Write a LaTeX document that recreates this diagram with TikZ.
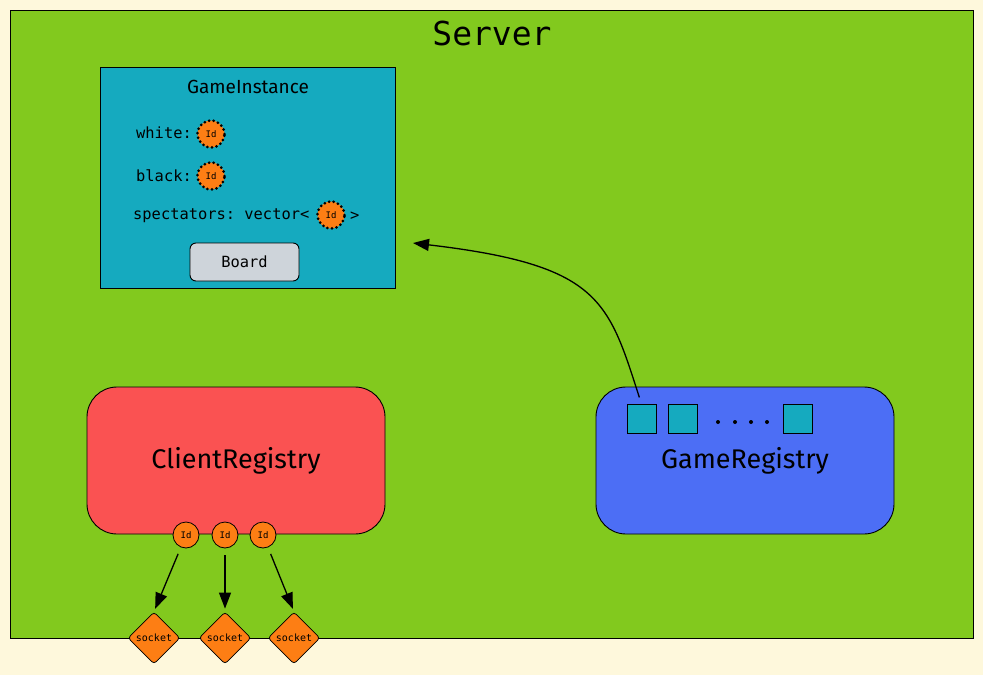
\documentclass[tikz,border=0pt]{standalone}
\usepackage{fontspec}
\setmainfont{Fira Sans}
\setmonofont{DejaVu Sans Mono}
\usetikzlibrary{arrows.meta,shapes.geometric}
\definecolor{bgcream}{HTML}{FEF8DC}
\definecolor{servergreen}{HTML}{82C91E}
\definecolor{gamecyan}{HTML}{15AABF}
\definecolor{clientred}{HTML}{FA5252}
\definecolor{registryblue}{HTML}{4C6EF5}
\definecolor{idorange}{HTML}{FD7E14}
\definecolor{boardgrey}{HTML}{CED4DA}
\begin{document}
\begin{tikzpicture}[x=1pt,y=-1pt,
  box/.style={draw=black,line width=0.9pt,inner sep=0pt},
  idsolid/.style={circle,draw=black,line width=0.8pt,fill=idorange,minimum size=26pt,inner sep=0pt,font=\ttfamily\fontsize{9}{9}\selectfont},
  iddotted/.style={circle,draw=black,fill=idorange,minimum size=27pt,inner sep=0pt,line width=3pt,dash pattern=on 0pt off 4.6pt,line cap=round,font=\ttfamily\fontsize{9}{9}\selectfont},
  sockbox/.style={diamond,draw=black,line width=0.8pt,fill=idorange,minimum size=52pt,inner sep=0pt,rounded corners=3pt,font=\ttfamily\fontsize{10}{10}\selectfont},
  field/.style={anchor=west,inner sep=0pt,font=\ttfamily\fontsize{15.4}{15.4}\selectfont},
  link/.style={-{Triangle[length=16pt,width=12pt]},line width=1.3pt}]
\fill[bgcream] (0,0) rectangle (983,675);
\useasboundingbox (0,0) rectangle (983,675);
% server
\node[box,fill=servergreen,minimum width=963pt,minimum height=628pt] (server) at (491.5,324) {};
\node[font=\ttfamily\fontsize{33}{33}\selectfont] (servertitle) at (492,33) {Server};
% game instance
\node[box,fill=gamecyan,minimum width=295pt,minimum height=221pt] (gameinst) at (247.5,177.5) {};
\node[font=\fontsize{19}{19}\selectfont] (gametitle) at (248,87) {GameInstance};
\node[field] (white) at (136,133) {white:};
\node[iddotted] (whiteid) at (211,134) {Id};
\node[field] (black) at (136,176) {black:};
\node[iddotted] (blackid) at (211,176) {Id};
\node[field] (spect) at (133,216) {spectators: vector<};
\node[iddotted] (spectid) at (331,215) {Id};
\node[field] (spectend) at (350,216) {>};
\node[box,fill=boardgrey,rounded corners=6pt,minimum width=109pt,minimum height=38pt,font=\ttfamily\fontsize{15.4}{15.4}\selectfont] (board) at (244.5,262) {Board};
% registries
\node[box,fill=clientred,rounded corners=30pt,minimum width=298pt,minimum height=147pt,font=\fontsize{27}{27}\selectfont] (clients) at (236,460.5) {ClientRegistry};
\node[box,fill=registryblue,rounded corners=30pt,minimum width=298pt,minimum height=147pt,font=\fontsize{27}{27}\selectfont] (games) at (745,460.5) {GameRegistry};
\foreach \i/\x in {1/641.5,2/682.5,3/797.5}
  \node[box,fill=gamecyan,minimum size=29pt] (slot\i) at (\x,419) {};
\foreach \x in {718,735,751,767}
  \fill (\x,422) circle (2);
\coordinate (gametip) at (413,243);
\draw[link,shorten <=7pt] (slot1.north) .. controls (608,300) and (600,265) .. (gametip);
% client ids and sockets
\foreach \i/\x/\sx in {1/186/154,2/225/225,3/263/294} {
  \node[idsolid] (cid\i) at (\x,535) {Id};
  \node[sockbox] (sock\i) at (\sx,638) {socket};
  \draw[link,shorten <=7pt,shorten >=3pt] (cid\i) -- (sock\i.north);
}
\end{tikzpicture}
\end{document}
